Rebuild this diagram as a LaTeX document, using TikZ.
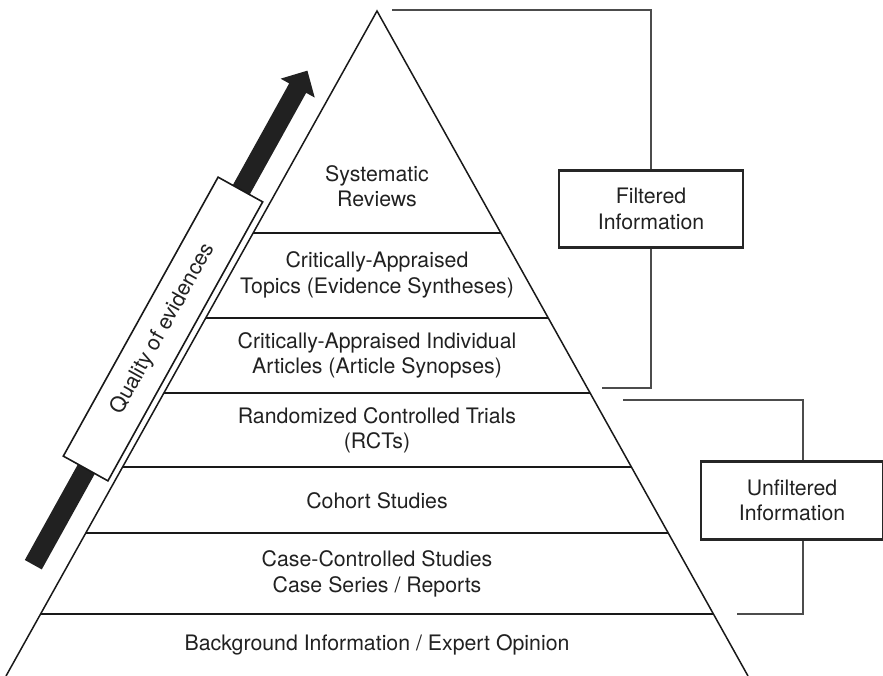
\documentclass[tikz,border=0pt]{standalone}
\usepackage{fontspec}
\setmainfont{TeX Gyre Heros}
\begin{document}
\begin{tikzpicture}[x=1pt,y=-1pt,
  txt/.style={align=center,text=black!87,font=\fontsize{21.3}{25.5}\selectfont,inner sep=0pt},
  side/.style={line width=1.5pt,draw=black!90},
  tier/.style={line width=2.2pt,draw=black!90},
  infobox/.style={draw=black!85,line width=2.4pt,txt},
  brk/.style={line width=1.5pt,draw=black!70}]
\useasboundingbox (0,0) rectangle (883,676);
% triangle
\coordinate (apex) at (377,11);
\coordinate (bl) at (6,676);
\coordinate (br) at (748,676);
\draw[side] (bl) -- (apex) -- (br);
% tiers
\foreach \yy/\nm in {233/a,318/b,393/c,467/d,533/e,614/f}{
  \pgfmathsetmacro{\hw}{0.5572*(\yy-11)}
  \coordinate (\nm L) at ({377-\hw},\yy);
  \coordinate (\nm R) at ({377+\hw},\yy);
  \draw[tier] (\nm L) -- (\nm R);
}
% labels
\node[txt] (t1) at (377,186) {Systematic\\Reviews};
\node[txt] (t2) at (377,275) {Critically-Appraised\\Topics (Evidence Syntheses)};
\node[txt] (t3) at (377,355.5) {Critically-Appraised Individual\\Articles (Article Synopses)};
\node[txt] (t4) at (377,430.5) {Randomized Controlled Trials\\(RCTs)};
\node[txt] (t5) at (377,501) {Cohort Studies};
\node[txt] (t6) at (377,574) {Case-Controlled Studies\\Case Series / Reports};
\node[txt] (t7) at (377,645) {Background Information / Expert Opinion};
% arrow
\begin{scope}[shift={(33.3,564.7)},rotate=60.98]
  \fill[black!87] (0,-9.7) -- (545,-9.7) -- (545,-19.5) -- (565,0) -- (545,19.5) -- (545,9.7) -- (0,9.7) -- cycle;
\end{scope}
\node[draw=black!90,fill=white,line width=1.6pt,rotate=60.98,minimum width=319pt,minimum height=51pt,txt] (q) at (163,329) {Quality of evidences};
% filtered bracket
\node[infobox,minimum width=184pt,minimum height=77pt] (fb) at (651,209) {Filtered\\Information};
\coordinate (f1) at (392,10);
\coordinate (f2) at (651,10);
\coordinate (f3) at (651,388);
\coordinate (f4) at (602,388);
\draw[brk] (f1) -- (f2) -- (fb.north);
\draw[brk] (fb.south) -- (f3) -- (f4);
% unfiltered bracket
\node[infobox,minimum width=182pt,minimum height=78pt] (ub) at (792,500.5) {Unfiltered\\Information};
\coordinate (u1) at (623,400);
\coordinate (u2) at (803,400);
\coordinate (u3) at (803,614);
\coordinate (u4) at (737,614);
\draw[brk] (u1) -- (u2) -- (u2 |- ub.north);
\draw[brk] (u2 |- ub.south) -- (u3) -- (u4);
\end{tikzpicture}
\end{document}
